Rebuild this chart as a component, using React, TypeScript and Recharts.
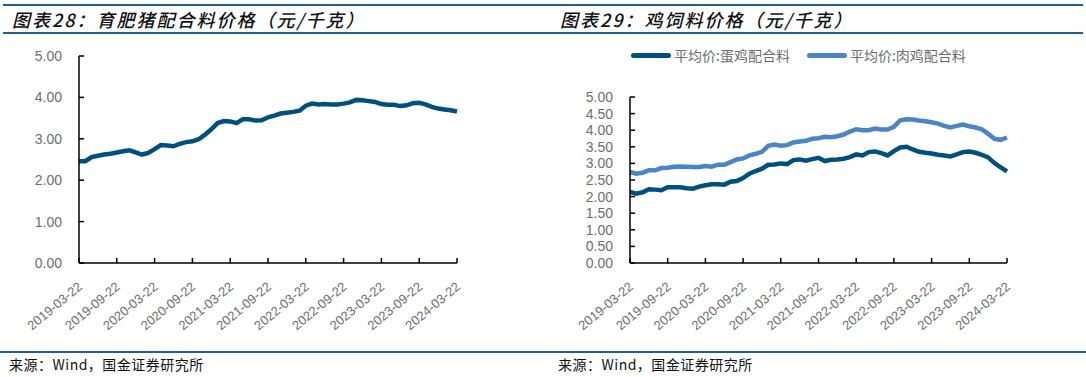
import { LineChart, Line, XAxis, YAxis } from "recharts"

// monthly readings, 2019-03 .. 2024-03
const dates = [
  "2019-03-22", "2019-04-22", "2019-05-22", "2019-06-22", "2019-07-22", "2019-08-22",
  "2019-09-22", "2019-10-22", "2019-11-22", "2019-12-22", "2020-01-22", "2020-02-22",
  "2020-03-22", "2020-04-22", "2020-05-22", "2020-06-22", "2020-07-22", "2020-08-22",
  "2020-09-22", "2020-10-22", "2020-11-22", "2020-12-22", "2021-01-22", "2021-02-22",
  "2021-03-22", "2021-04-22", "2021-05-22", "2021-06-22", "2021-07-22", "2021-08-22",
  "2021-09-22", "2021-10-22", "2021-11-22", "2021-12-22", "2022-01-22", "2022-02-22",
  "2022-03-22", "2022-04-22", "2022-05-22", "2022-06-22", "2022-07-22", "2022-08-22",
  "2022-09-22", "2022-10-22", "2022-11-22", "2022-12-22", "2023-01-22", "2023-02-22",
  "2023-03-22", "2023-04-22", "2023-05-22", "2023-06-22", "2023-07-22", "2023-08-22",
  "2023-09-22", "2023-10-22", "2023-11-22", "2023-12-22", "2024-01-22", "2024-02-22",
  "2024-03-22",
]

const hogFeed = [
  2.46, 2.46, 2.56, 2.59, 2.62, 2.64, 2.67, 2.70, 2.72, 2.67, 2.62, 2.66,
  2.75, 2.85, 2.84, 2.82, 2.88, 2.92, 2.94, 2.99, 3.10, 3.23, 3.38, 3.43,
  3.42, 3.38, 3.47, 3.47, 3.44, 3.45, 3.52, 3.56, 3.61, 3.63, 3.65, 3.68,
  3.80, 3.85, 3.83, 3.84, 3.83, 3.83, 3.85, 3.88, 3.94, 3.93, 3.91, 3.89,
  3.84, 3.82, 3.82, 3.79, 3.81, 3.86, 3.87, 3.83, 3.77, 3.73, 3.71, 3.69,
  3.66,
]

const layerFeed = [
  2.14, 2.09, 2.13, 2.22, 2.21, 2.19, 2.28, 2.28, 2.28, 2.25, 2.24, 2.30,
  2.34, 2.37, 2.37, 2.36, 2.45, 2.47, 2.56, 2.69, 2.77, 2.84, 2.96, 2.97,
  3.00, 2.98, 3.10, 3.12, 3.08, 3.13, 3.17, 3.07, 3.11, 3.12, 3.14, 3.19,
  3.27, 3.24, 3.34, 3.36, 3.31, 3.24, 3.37, 3.48, 3.50, 3.42, 3.35, 3.32,
  3.30, 3.26, 3.24, 3.21, 3.27, 3.34, 3.36, 3.32, 3.26, 3.18, 3.01, 2.88,
  2.76,
]

const broilerFeed = [
  2.74, 2.69, 2.72, 2.79, 2.79, 2.86, 2.87, 2.90, 2.91, 2.90, 2.89, 2.89,
  2.92, 2.90, 2.96, 2.96, 3.04, 3.12, 3.15, 3.24, 3.29, 3.35, 3.53, 3.57,
  3.53, 3.55, 3.63, 3.66, 3.68, 3.74, 3.76, 3.80, 3.79, 3.82, 3.87, 3.96,
  4.03, 4.00, 4.00, 4.05, 4.02, 4.02, 4.10, 4.30, 4.33, 4.32, 4.29, 4.27,
  4.24, 4.20, 4.13, 4.08, 4.13, 4.17, 4.12, 4.08, 4.03, 3.89, 3.74, 3.71,
  3.78,
]

const tickDates = [
  "2019-03-22", "2019-09-22", "2020-03-22", "2020-09-22", "2021-03-22", "2021-09-22",
  "2022-03-22", "2022-09-22", "2023-03-22", "2023-09-22", "2024-03-22",
]
const hogTicks = [0, 1, 2, 3, 4, 5]
const chickenTicks = [0, 0.5, 1, 1.5, 2, 2.5, 3, 3.5, 4, 4.5, 5]

const hogData = dates.map((date, i) => ({ date, hog: hogFeed[i] }))
const chickenData = dates.map((date, i) => ({ date, layer: layerFeed[i], broiler: broilerFeed[i] }))

const DARK = "#00507d"
const LIGHT = "#4a85c6"
const GREY = "#6e6e6e"
const RULE = "#1f5f8f"
const NUM_FONT = "'Liberation Sans', Arial, sans-serif"
const CJK_FONT = "'Noto Sans CJK SC', sans-serif"

// x, y arrive on the axis line (tickSize/tickMargin = 0); draw an inward tick + rotated label
function DateTick(props: any) {
  const { x, y, payload } = props
  const px = x + 4
  const py = y + 25
  return (
    <g>
      <line x1={x} y1={y} x2={x} y2={y - 5} stroke="#000" strokeWidth={1.5} />
      <text
        x={px}
        y={py}
        transform={`rotate(-40, ${px}, ${py})`}
        textAnchor="end"
        fill={GREY}
        fontSize={13}
        fontFamily={NUM_FONT}
      >
        {payload.value}
      </text>
    </g>
  )
}

function ValueTick(props: any) {
  const { x, y, payload } = props
  return (
    <g>
      <line x1={x} y1={y} x2={x + 5} y2={y} stroke="#000" strokeWidth={1.5} />
      <text x={x - 17} y={y} dy="0.36em" textAnchor="end" fill={GREY} fontSize={14} fontFamily={NUM_FONT}>
        {Number(payload.value).toFixed(2)}
      </text>
    </g>
  )
}

const legendItems = [
  { label: "平均价:蛋鸡配合料", color: DARK },
  { label: "平均价:肉鸡配合料", color: LIGHT },
]

function ChickenLegend() {
  return (
    <div
      style={{
        position: "absolute",
        left: 631,
        top: 45,
        display: "flex",
        alignItems: "center",
        fontFamily: CJK_FONT,
        fontSize: 14,
        color: GREY,
        lineHeight: "20px",
      }}
    >
      {legendItems.map((item, i) => (
        <div key={item.label} style={{ display: "flex", alignItems: "center", marginRight: i === 0 ? 17 : 0 }}>
          <span style={{ display: "inline-block", width: 40, height: 5, borderRadius: 3, background: item.color, marginRight: 3 }} />
          <span>{item.label}</span>
        </div>
      ))}
    </div>
  )
}

const titleStyle: React.CSSProperties = {
  position: "absolute",
  top: 7,
  fontFamily: CJK_FONT,
  fontStyle: "italic",
  fontWeight: 500,
  fontSize: 18,
  letterSpacing: 2,
  color: "#111",
  lineHeight: "24px",
  whiteSpace: "nowrap",
}

const footStyle: React.CSSProperties = {
  position: "absolute",
  top: 355,
  fontFamily: CJK_FONT,
  fontSize: 14,
  letterSpacing: 0.5,
  color: "#111",
  lineHeight: "18px",
  whiteSpace: "nowrap",
}

function Rule({ top, left, width }: { top: number; left: number; width: number }) {
  return <div style={{ position: "absolute", top, left, width, height: 2, background: RULE }} />
}

const axisStroke = { stroke: "#000", strokeWidth: 1.5 }

export default function App() {
  return (
    <div style={{ position: "absolute", left: 0, top: 0, width: 1086, height: 377, background: "#fff", overflow: "hidden" }}>
      <Rule top={4} left={3} width={1080} />
      <Rule top={32} left={3} width={1080} />
      <Rule top={351} left={0} width={1086} />

      <div style={{ ...titleStyle, left: 12 }}>图表28：育肥猪配合料价格（元/千克）</div>
      <div style={{ ...titleStyle, left: 560 }}>图表29：鸡饲料价格（元/千克）</div>

      <div style={{ position: "absolute", left: 0, top: 0 }}>
        <LineChart width={543} height={377} data={hogData} margin={{ top: 56, right: 86, bottom: 34, left: 19 }}>
          <XAxis
            dataKey="date"
            ticks={tickDates}
            interval={0}
            height={80}
            tick={<DateTick />}
            tickSize={0}
            tickMargin={0}
            tickLine={false}
            axisLine={axisStroke}
          />
          <YAxis
            domain={[0, 5]}
            ticks={hogTicks}
            interval={0}
            width={60}
            tick={<ValueTick />}
            tickSize={0}
            tickMargin={0}
            tickLine={false}
            axisLine={axisStroke}
          />
          <Line type="linear" dataKey="hog" stroke={DARK} strokeWidth={4.5} dot={false} isAnimationActive={false} />
        </LineChart>
      </div>

      <div style={{ position: "absolute", left: 543, top: 0 }}>
        <LineChart width={543} height={377} data={chickenData} margin={{ top: 97, right: 79, bottom: 34, left: 27 }}>
          <XAxis
            dataKey="date"
            ticks={tickDates}
            interval={0}
            height={80}
            tick={<DateTick />}
            tickSize={0}
            tickMargin={0}
            tickLine={false}
            axisLine={axisStroke}
          />
          <YAxis
            domain={[0, 5]}
            ticks={chickenTicks}
            interval={0}
            width={60}
            tick={<ValueTick />}
            tickSize={0}
            tickMargin={0}
            tickLine={false}
            axisLine={axisStroke}
          />
          <Line type="linear" dataKey="layer" stroke={DARK} strokeWidth={4.5} dot={false} isAnimationActive={false} />
          <Line type="linear" dataKey="broiler" stroke={LIGHT} strokeWidth={4.5} dot={false} isAnimationActive={false} />
        </LineChart>
      </div>

      <ChickenLegend />

      <div style={{ ...footStyle, left: 9 }}>来源：Wind，国金证券研究所</div>
      <div style={{ ...footStyle, left: 558 }}>来源：Wind，国金证券研究所</div>
    </div>
  )
}
